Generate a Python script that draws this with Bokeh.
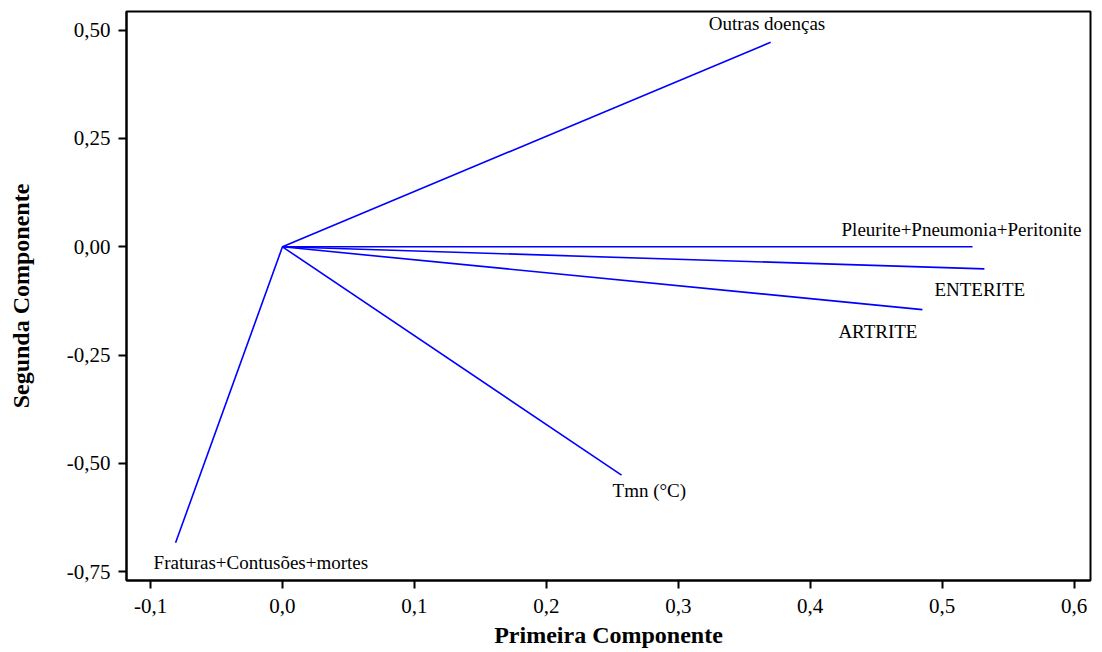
from bokeh.plotting import figure
from bokeh.models import ColumnDataSource, FixedTicker, Range1d, LabelSet
from bokeh.embed import file_html
from bokeh.resources import INLINE

# Loadings (first component, second component)
variables = ["Outras doenças", "Pleurite+Pneumonia+Peritonite", "ENTERITE",
             "ARTRITE", "Tmn (°C)", "Fraturas+Contusões+mortes"]
pc1 = [0.370, 0.523, 0.532, 0.485, 0.257, -0.081]
pc2 = [0.472, 0.000, -0.051, -0.145, -0.527, -0.683]

x_ticks = [-0.1, 0.0, 0.1, 0.2, 0.3, 0.4, 0.5, 0.6]
x_tick_labels = ["-0,1", "0,0", "0,1", "0,2", "0,3", "0,4", "0,5", "0,6"]
y_ticks = [-0.75, -0.5, -0.25, 0.0, 0.25, 0.5]
y_tick_labels = ["-0,75", "-0,50", "-0,25", "0,00", "0,25", "0,50"]

# label placement (pixel offsets from line end; positive dy = upward)
lab_dx = [-62, -131, -50, -84, -9, -22]
lab_dy = [19, 17, -21, -22, -15, -20]

serif = "Liberation Serif"

p = figure(width=1100, height=650, output_backend="svg", toolbar_location=None,
           x_range=Range1d(-0.1182, 0.6124), y_range=Range1d(-0.770, 0.543),
           min_border_left=126, min_border_right=10, min_border_top=11,
           min_border_bottom=69)
p.xgrid.visible = False
p.ygrid.visible = False
p.outline_line_color = "black"
p.outline_line_width = 2
p.outline_line_alpha = 1

src = ColumnDataSource(dict(x0=[0.0] * len(pc1), y0=[0.0] * len(pc2),
                            x1=pc1, y1=pc2, name=variables,
                            dx=lab_dx, dy=lab_dy))
p.segment(x0="x0", y0="y0", x1="x1", y1="y1", source=src,
          line_color="#0000FF", line_width=1.6)
labels = LabelSet(x="x1", y="y1", text="name", source=src,
                  x_offset="dx", y_offset="dy",
                  text_align="left", text_baseline="middle",
                  text_font=serif, text_font_size="19px", text_color="black")
p.add_layout(labels)

for ax in (p.xaxis[0], p.yaxis[0]):
    ax.major_label_text_font = serif
    ax.major_label_text_font_size = "21px"
    ax.major_label_text_color = "black"
    ax.axis_label_text_font = serif
    ax.axis_label_text_font_size = "24px"
    ax.axis_label_text_font_style = "bold"
    ax.axis_label_text_color = "black"
    ax.axis_line_width = 2
    ax.axis_line_color = "black"
    ax.major_tick_line_width = 2
    ax.major_tick_line_color = "black"
    ax.major_tick_out = 8
    ax.major_tick_in = 0
    ax.minor_tick_line_color = None

p.xaxis[0].ticker = FixedTicker(ticks=x_ticks)
p.xaxis[0].major_label_overrides = {t: l for t, l in zip(x_ticks, x_tick_labels)}
p.yaxis[0].ticker = FixedTicker(ticks=y_ticks)
p.yaxis[0].major_label_overrides = {t: l for t, l in zip(y_ticks, y_tick_labels)}
p.xaxis[0].axis_label = "Primeira Componente"
p.yaxis[0].axis_label = "Segunda Componente"
p.xaxis[0].major_label_standoff = 10
p.yaxis[0].major_label_standoff = 8
p.xaxis[0].axis_label_standoff = 6
p.yaxis[0].axis_label_standoff = 30

open("out.html", "w").write(file_html(p, INLINE))
